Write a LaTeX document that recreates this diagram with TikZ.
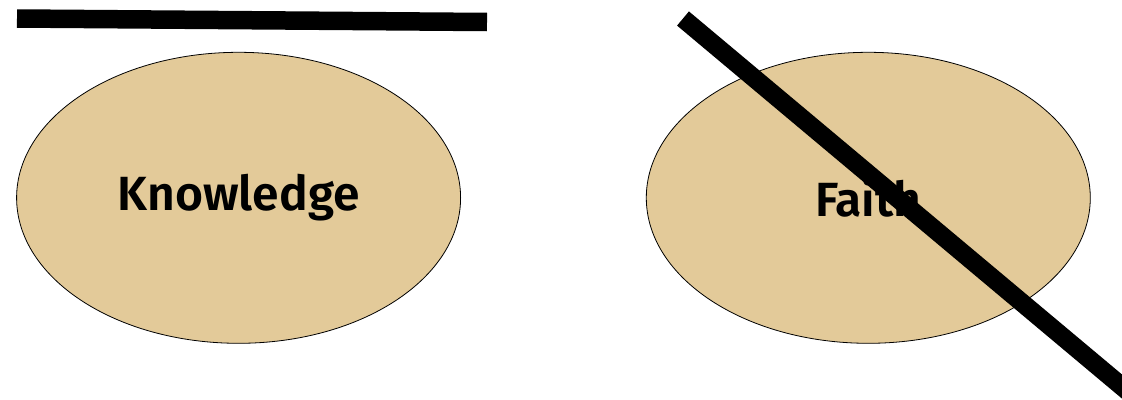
\documentclass[tikz,border=0pt]{standalone}
\usepackage{fontspec}
\setmainfont{Fira Sans}
\newfontfamily\labelfont{Fira Sans SemiBold}
\usepackage{tikz}
\usetikzlibrary{shapes.geometric,positioning}
\definecolor{sand}{HTML}{E3CA99}
\tikzset{
  ideanode/.style={
    ellipse,
    draw=black,
    fill=sand,
    line width=0.8pt,
    minimum width=444pt,
    minimum height=291pt,
    inner sep=0pt,
    font=\fontsize{48}{56}\labelfont
  },
  strikeline/.style={line width=18.5pt,draw=black}
}
\begin{document}
\begin{tikzpicture}[x=1pt,y=-1pt]
  \useasboundingbox (0,0) rectangle (1122,399);
  \node[ideanode] (knowledge) at (238.6,197.8) {Knowledge};
  \node[ideanode] (faith) at (868.3,197.8) {Faith};

  \coordinate (barleft) at (17,18.5);
  \coordinate (barright) at (487,22);
  \coordinate (crosstop) at (683,18.5);
  \coordinate (crossend) at (1150,410);

  \draw[strikeline] (barleft) -- (barright);
  \draw[strikeline] (crosstop) -- (crossend);
\end{tikzpicture}
\end{document}
